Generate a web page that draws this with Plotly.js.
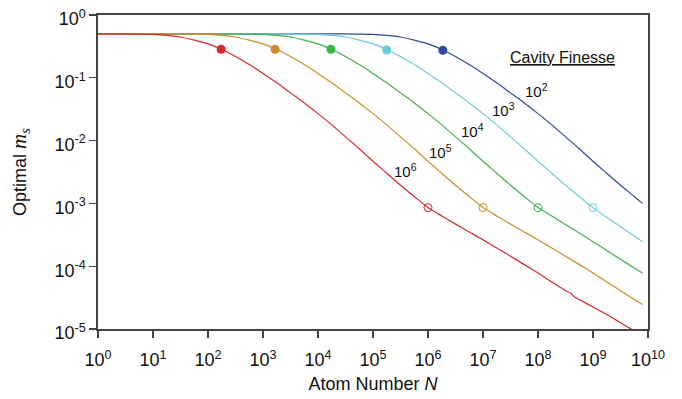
<!DOCTYPE html>
<html><head><meta charset="utf-8">
<script src="https://cdn.plot.ly/plotly-3.0.1.min.js"></script>
<style>html,body{margin:0;padding:0;background:#fff}#chart{width:682px;height:399px}</style>
</head><body><div id="chart"></div>
<script>
// ---- data (log10 values) ----
const finesseLabels = ['10<sup>2</sup>', '10<sup>3</sup>', '10<sup>4</sup>', '10<sup>5</sup>', '10<sup>6</sup>'];
const colors = ['#2c4a9f', '#6ccbdc', '#3db34a', '#d38a2a', '#d7262e'];

// F = 10^2 (blue)
const logN_F2 = [0, 4.25, 4.5, 4.75, 5.0, 5.25, 5.5, 5.75, 6.0, 6.25, 6.5, 6.75, 7.0, 7.25, 7.5, 7.75, 8.0, 8.25, 8.5, 8.75, 9.0, 9.25, 9.5, 9.75, 9.9];
const logM_F2 = [-0.301, -0.301, -0.302, -0.305, -0.31, -0.325, -0.35, -0.40, -0.46, -0.55, -0.66, -0.79, -0.93, -1.08, -1.24, -1.40, -1.57, -1.75, -1.94, -2.13, -2.33, -2.52, -2.71, -2.89, -3.00];
// F = 10^3 (cyan)
const logN_F3 = [0, 3.25, 3.5, 3.75, 4.0, 4.25, 4.5, 4.75, 5.0, 5.25, 5.5, 5.75, 6.0, 6.25, 6.5, 6.75, 7.0, 7.25, 7.5, 7.75, 8.0, 8.25, 8.5, 8.75, 9.0, 9.25, 9.5, 9.75, 9.9];
const logM_F3 = [-0.301, -0.301, -0.302, -0.305, -0.31, -0.325, -0.35, -0.40, -0.46, -0.55, -0.66, -0.79, -0.93, -1.08, -1.24, -1.40, -1.57, -1.75, -1.94, -2.13, -2.33, -2.52, -2.71, -2.89, -3.067, -3.22, -3.37, -3.52, -3.61];
// F = 10^4 (green)
const logN_F4 = [0, 2.25, 2.5, 2.75, 3.0, 3.25, 3.5, 3.75, 4.0, 4.25, 4.5, 4.75, 5.0, 5.25, 5.5, 5.75, 6.0, 6.25, 6.5, 6.75, 7.0, 7.25, 7.5, 7.75, 8.0, 8.25, 8.5, 8.75, 9.0, 9.25, 9.5, 9.75, 9.9];
const logM_F4 = [-0.301, -0.301, -0.302, -0.305, -0.31, -0.325, -0.35, -0.40, -0.46, -0.55, -0.66, -0.79, -0.93, -1.08, -1.24, -1.40, -1.57, -1.75, -1.94, -2.13, -2.33, -2.52, -2.71, -2.89, -3.067, -3.20, -3.335, -3.47, -3.61, -3.75, -3.89, -4.03, -4.11];
// F = 10^5 (orange)
const logN_F5 = [0, 1.25, 1.5, 1.75, 2.0, 2.25, 2.5, 2.75, 3.0, 3.25, 3.5, 3.75, 4.0, 4.25, 4.5, 4.75, 5.0, 5.25, 5.5, 5.75, 6.0, 6.25, 6.5, 6.75, 7.0, 7.25, 7.5, 7.75, 8.0, 8.25, 8.5, 8.75, 9.0, 9.25, 9.5, 9.75, 9.9];
const logM_F5 = [-0.301, -0.301, -0.302, -0.305, -0.31, -0.325, -0.35, -0.40, -0.46, -0.55, -0.66, -0.79, -0.93, -1.08, -1.24, -1.40, -1.57, -1.75, -1.94, -2.13, -2.33, -2.52, -2.71, -2.89, -3.067, -3.20, -3.33, -3.455, -3.58, -3.71, -3.84, -3.975, -4.11, -4.25, -4.39, -4.53, -4.61];
// F = 10^6 (red)
const logN_F6 = [0, 0.25, 0.5, 0.75, 1.0, 1.25, 1.5, 1.75, 2.0, 2.25, 2.5, 2.75, 3.0, 3.25, 3.5, 3.75, 4.0, 4.25, 4.5, 4.75, 5.0, 5.25, 5.5, 5.75, 6.0, 6.25, 6.5, 6.75, 7.0, 7.25, 7.5, 7.75, 8.0, 8.25, 8.5, 8.6, 8.65, 8.75, 9.0, 9.25, 9.5, 9.75, 9.9];
const logM_F6 = [-0.301, -0.301, -0.302, -0.305, -0.31, -0.325, -0.35, -0.40, -0.46, -0.55, -0.66, -0.79, -0.93, -1.08, -1.24, -1.40, -1.57, -1.75, -1.94, -2.13, -2.33, -2.52, -2.71, -2.89, -3.067, -3.20, -3.33, -3.455, -3.58, -3.71, -3.84, -3.975, -4.11, -4.25, -4.39, -4.43, -4.48, -4.53, -4.65, -4.77, -4.90, -5.03, -5.11];

// markers
const filledLogN = [6.27, 5.25, 4.235, 3.22, 2.24];
const filledLogM = [-0.562, -0.557, -0.546, -0.546, -0.546];
const hollowLogN = [9.0, 8.0, 7.0, 6.0];
const hollowLogM = [-3.067, -3.067, -3.067, -3.067];

// axis ticks
const xTickExp = [0, 1, 2, 3, 4, 5, 6, 7, 8, 9, 10];
const xTickText = xTickExp.map(e => '10<sup>' + e + '</sup>');
const yTickExp = [0, -1, -2, -3, -4, -5];
const yTickText = yTickExp.map(e => '10<sup>' + e + '</sup>');

// ---- build ----
const p10 = v => Math.pow(10, v);
const curves = [[logN_F2, logM_F2], [logN_F3, logM_F3], [logN_F4, logM_F4], [logN_F5, logM_F5], [logN_F6, logM_F6]];
const traces = [];
curves.forEach((c, i) => {
  traces.push({
    x: c[0].map(p10), y: c[1].map(p10), mode: 'lines', type: 'scatter',
    line: {color: colors[i], width: 1.2, shape: 'spline', smoothing: 0.6},
    hoverinfo: 'skip'
  });
});
traces.push({
  x: filledLogN.map(p10), y: filledLogM.map(p10), mode: 'markers', type: 'scatter',
  marker: {color: colors, size: 9, line: {width: 0}}
});
traces.push({
  x: hollowLogN.map(p10), y: hollowLogM.map(p10), mode: 'markers', type: 'scatter',
  marker: {color: colors.slice(1), size: 8, symbol: 'circle-open', line: {width: 1}}
});

const labelPos = [[7.975, -1.199], [7.37, -1.50], [6.815, -1.836], [6.23, -2.166], [5.583, -2.473]];
const annotations = finesseLabels.map((t, i) => ({
  x: labelPos[i][0], y: labelPos[i][1], xref: 'x', yref: 'y', text: t, showarrow: false,
  font: {size: 15, color: '#111'}, xanchor: 'center', yanchor: 'middle'
}));
annotations.push({
  x: 8.45, y: -0.678, xref: 'x', yref: 'y', text: '<u>Cavity Finesse</u>', showarrow: false,
  font: {size: 16, color: '#111'}, xanchor: 'center', yanchor: 'middle'
});

const layout = {
  width: 682, height: 399,
  margin: {l: 98, r: 34, t: 15, b: 70},
  paper_bgcolor: '#fff', plot_bgcolor: '#fff',
  showlegend: false,
  font: {family: 'Liberation Sans, Arial, sans-serif', color: '#111', size: 18},
  xaxis: {
    type: 'log', range: [0, 10], tickvals: xTickExp.map(p10), ticktext: xTickText,
    ticks: 'outside', ticklen: 7, tickwidth: 1.3, tickcolor: '#444',
    showline: true, linecolor: '#444', linewidth: 1.6, mirror: true,
    showgrid: false, zeroline: false, tickfont: {size: 18}, ticklabelstandoff: 7,
    title: {text: 'Atom Number <i>N</i>', font: {size: 18}, standoff: 8}
  },
  yaxis: {
    type: 'log', range: [-5, 0], tickvals: yTickExp.map(p10), ticktext: yTickText,
    ticks: 'outside', ticklen: 7, tickwidth: 1.3, tickcolor: '#444',
    showline: true, linecolor: '#444', linewidth: 1.6, mirror: true,
    showgrid: false, zeroline: false, tickfont: {size: 18}, ticklabelshift: 4,
    title: {text: 'Optimal <span style="font-family:Liberation Serif,Times New Roman,serif;font-size:21px;font-style:italic">m<sub>s</sub></span>', font: {size: 18}, standoff: 23}
  },
  annotations: annotations
};
Plotly.newPlot('chart', traces, layout, {staticPlot: true, displayModeBar: false});
</script></body></html>
